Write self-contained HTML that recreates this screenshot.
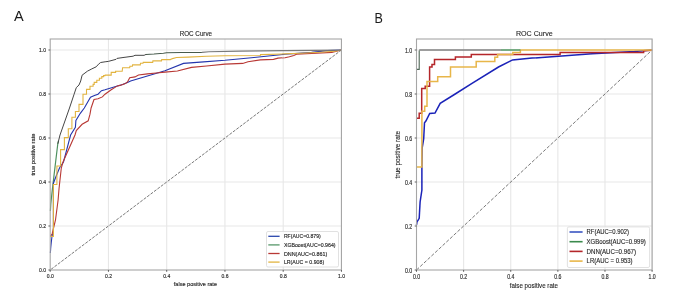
<!DOCTYPE html>
<html><head><meta charset="utf-8"><title>ROC Curves</title>
<style>
html,body{margin:0;padding:0;background:#fff;width:685px;height:306px;overflow:hidden;}
svg{display:block;font-family:"Liberation Sans",sans-serif;}
</style></head><body>
<svg width="685" height="306" viewBox="0 0 685 306" font-family="Liberation Sans, sans-serif">
<defs><filter id="bl" x="-5%" y="-5%" width="110%" height="110%"><feGaussianBlur stdDeviation="0.5"/></filter></defs>
<rect x="0" y="0" width="685" height="306" fill="#ffffff"/>
<g filter="url(#bl)">
<text x="13.9" y="20.6" font-size="14.5" text-anchor="start" fill="#1a1a1a" >A</text>
<g transform="translate(374.6 0) scale(0.86 1)"><text x="0" y="23.2" font-size="14.6" text-anchor="start" fill="#1a1a1a" >B</text></g>
<line x1="108.45" y1="39.0" x2="108.45" y2="270.0" stroke="#e7e7e7" stroke-width="1.1"/>
<line x1="166.70" y1="39.0" x2="166.70" y2="270.0" stroke="#e7e7e7" stroke-width="1.1"/>
<line x1="224.95" y1="39.0" x2="224.95" y2="270.0" stroke="#e7e7e7" stroke-width="1.1"/>
<line x1="283.20" y1="39.0" x2="283.20" y2="270.0" stroke="#e7e7e7" stroke-width="1.1"/>
<line x1="341.45" y1="39.0" x2="341.45" y2="270.0" stroke="#e7e7e7" stroke-width="1.1"/>
<line x1="50.2" y1="226.00" x2="341.45" y2="226.00" stroke="#e7e7e7" stroke-width="1.1"/>
<line x1="50.2" y1="182.00" x2="341.45" y2="182.00" stroke="#e7e7e7" stroke-width="1.1"/>
<line x1="50.2" y1="138.00" x2="341.45" y2="138.00" stroke="#e7e7e7" stroke-width="1.1"/>
<line x1="50.2" y1="94.00" x2="341.45" y2="94.00" stroke="#e7e7e7" stroke-width="1.1"/>
<line x1="50.2" y1="50.00" x2="341.45" y2="50.00" stroke="#e7e7e7" stroke-width="1.1"/>
<line x1="50.20" y1="270.00" x2="341.45" y2="50.00" stroke="#555555" stroke-width="0.8" stroke-dasharray="3.0 1.3" stroke-dashoffset="-1.1"/>
<polyline points="50.4,211.0 50.8,204.0 51.2,200.0 52.4,189.0 55.6,162.0 57.8,143.8 58.5,141.0" fill="none" stroke="#4e9160" stroke-width="1.2" stroke-linejoin="miter" />
<polyline points="50.4,253.0 50.7,248.0 51.2,243.0 52.0,236.3 53.4,232.0 53.4,190.0 53.4,183.2 56.5,175.2 59.6,167.7 63.5,162.0 70.6,135.0 75.4,127.4 75.9,120.4 80.3,113.3 84.3,108.0 90.5,97.3 94.4,95.6 98.0,94.2 101.5,90.7 105.0,89.8 116.5,86.3 122.7,84.5 128.0,82.3 130.6,81.0 165.0,70.8 183.5,63.4 200.3,62.1 225.0,60.3 251.5,57.7 278.0,55.0 285.0,54.2 311.5,52.4 327.4,50.6 341.4,50.0" fill="none" stroke="#2435ad" stroke-width="1.1" stroke-linejoin="miter" />
<polyline points="50.4,236.5 52.2,233.7 55.5,220.0 58.1,200.0 59.0,189.0 61.3,168.0 63.0,162.0 75.0,135.0 76.3,130.5 82.1,124.3 88.2,120.8 90.0,114.2 91.1,108.0 94.0,99.5 98.0,98.7 102.4,96.9 105.0,94.2 111.2,89.8 117.4,85.9 120.0,85.4 125.3,83.6 127.5,81.9 129.7,77.8 135.0,76.9 138.5,75.0 147.4,73.9 156.2,73.0 165.0,72.1 177.4,71.0 191.5,67.4 206.5,66.0 225.0,64.1 242.7,63.4 248.0,61.7 260.3,59.9 273.5,59.4 278.0,58.1 285.0,57.7 289.4,56.8 293.8,55.5 296.5,54.2 331.8,52.4 341.4,50.0" fill="none" stroke="#b83834" stroke-width="1.1" stroke-linejoin="miter" />
<polyline points="50.4,236.5 53.4,236.5 53.4,184.5 56.9,184.5 56.9,166.0 60.6,166.0 60.6,149.6 64.4,149.6 64.4,137.6 68.3,137.6 68.3,128.7 71.9,128.7 71.9,117.3 75.4,117.3 75.4,111.5 79.0,111.5 79.0,104.4 83.0,104.4 83.0,94.2 86.5,94.2 86.5,89.4 90.0,89.4 90.0,86.3 93.1,86.3 93.1,84.4 94.2,84.4 94.2,82.4 96.8,82.4 96.8,80.2 99.4,80.2 99.4,78.2 101.8,78.2 101.8,76.6 103.6,76.6 103.6,75.6 105.0,75.6 105.2,75.1 111.2,75.1 111.2,72.4 115.6,72.4 115.6,71.3 122.2,71.3 122.6,67.8 129.7,67.8 129.9,66.2 132.4,66.2 132.6,64.9 140.3,64.9 140.5,63.3 143.0,63.3 143.2,62.4 152.7,62.4 152.9,60.9 161.5,60.9 161.7,59.6 170.3,59.6 172.5,58.6 176.5,57.5 188.0,57.1 206.5,56.2 225.0,55.8 260.3,55.5 260.5,54.6 285.0,53.9 300.0,53.2 320.0,52.2 335.0,51.2 341.4,50.0" fill="none" stroke="#e2b440" stroke-width="1.1" stroke-linejoin="miter" />
<polyline points="57.8,143.8 60.0,135.0 69.5,108.0 74.1,94.2 76.3,87.6 79.0,85.0 80.7,81.0 82.1,75.2 87.4,71.2 91.8,68.9 96.2,66.8 98.5,64.2 100.6,62.5 105.1,61.8 108.3,61.4 116.1,59.3 117.0,58.4 124.0,57.4 133.1,56.2 135.0,55.3 144.1,55.3 146.0,54.4" fill="none" stroke="#454545" stroke-width="1.0" stroke-linejoin="miter" />
<polyline points="146.0,54.4 154.0,54.0 163.4,53.2 166.6,52.8 182.0,52.5 201.9,52.4" fill="none" stroke="#465a4c" stroke-width="1.05" stroke-linejoin="miter" />
<polyline points="201.9,52.4 208.9,51.7 240.0,51.1 285.0,50.6 341.4,50.1" fill="none" stroke="#7a7a7a" stroke-width="1.1" stroke-linejoin="miter" />
<rect x="50.2" y="39.0" width="291.25" height="231.00" fill="none" stroke="#a6a6a6" stroke-width="1.1"/>
<line x1="50.20" y1="270.0" x2="50.20" y2="271.8" stroke="#505050" stroke-width="0.9"/>
<line x1="48.400000000000006" y1="270.00" x2="50.2" y2="270.00" stroke="#505050" stroke-width="0.9"/>
<line x1="108.45" y1="270.0" x2="108.45" y2="271.8" stroke="#505050" stroke-width="0.9"/>
<line x1="48.400000000000006" y1="226.00" x2="50.2" y2="226.00" stroke="#505050" stroke-width="0.9"/>
<line x1="166.70" y1="270.0" x2="166.70" y2="271.8" stroke="#505050" stroke-width="0.9"/>
<line x1="48.400000000000006" y1="182.00" x2="50.2" y2="182.00" stroke="#505050" stroke-width="0.9"/>
<line x1="224.95" y1="270.0" x2="224.95" y2="271.8" stroke="#505050" stroke-width="0.9"/>
<line x1="48.400000000000006" y1="138.00" x2="50.2" y2="138.00" stroke="#505050" stroke-width="0.9"/>
<line x1="283.20" y1="270.0" x2="283.20" y2="271.8" stroke="#505050" stroke-width="0.9"/>
<line x1="48.400000000000006" y1="94.00" x2="50.2" y2="94.00" stroke="#505050" stroke-width="0.9"/>
<line x1="341.45" y1="270.0" x2="341.45" y2="271.8" stroke="#505050" stroke-width="0.9"/>
<line x1="48.400000000000006" y1="50.00" x2="50.2" y2="50.00" stroke="#505050" stroke-width="0.9"/>
<text x="50.20" y="277.8" font-size="5.7" text-anchor="middle" fill="#262626" stroke="#262626" stroke-width="0.15" textLength="7.0" lengthAdjust="spacingAndGlyphs" >0.0</text>
<text x="46.0" y="272.10" font-size="5.8" text-anchor="end" fill="#262626" stroke="#262626" stroke-width="0.15" textLength="7.0" lengthAdjust="spacingAndGlyphs" >0.0</text>
<text x="108.45" y="277.8" font-size="5.7" text-anchor="middle" fill="#262626" stroke="#262626" stroke-width="0.15" textLength="7.0" lengthAdjust="spacingAndGlyphs" >0.2</text>
<text x="46.0" y="228.10" font-size="5.8" text-anchor="end" fill="#262626" stroke="#262626" stroke-width="0.15" textLength="7.0" lengthAdjust="spacingAndGlyphs" >0.2</text>
<text x="166.70" y="277.8" font-size="5.7" text-anchor="middle" fill="#262626" stroke="#262626" stroke-width="0.15" textLength="7.0" lengthAdjust="spacingAndGlyphs" >0.4</text>
<text x="46.0" y="184.10" font-size="5.8" text-anchor="end" fill="#262626" stroke="#262626" stroke-width="0.15" textLength="7.0" lengthAdjust="spacingAndGlyphs" >0.4</text>
<text x="224.95" y="277.8" font-size="5.7" text-anchor="middle" fill="#262626" stroke="#262626" stroke-width="0.15" textLength="7.0" lengthAdjust="spacingAndGlyphs" >0.6</text>
<text x="46.0" y="140.10" font-size="5.8" text-anchor="end" fill="#262626" stroke="#262626" stroke-width="0.15" textLength="7.0" lengthAdjust="spacingAndGlyphs" >0.6</text>
<text x="283.20" y="277.8" font-size="5.7" text-anchor="middle" fill="#262626" stroke="#262626" stroke-width="0.15" textLength="7.0" lengthAdjust="spacingAndGlyphs" >0.8</text>
<text x="46.0" y="96.10" font-size="5.8" text-anchor="end" fill="#262626" stroke="#262626" stroke-width="0.15" textLength="7.0" lengthAdjust="spacingAndGlyphs" >0.8</text>
<text x="341.45" y="277.8" font-size="5.7" text-anchor="middle" fill="#262626" stroke="#262626" stroke-width="0.15" textLength="7.0" lengthAdjust="spacingAndGlyphs" >1.0</text>
<text x="46.0" y="52.10" font-size="5.8" text-anchor="end" fill="#262626" stroke="#262626" stroke-width="0.15" textLength="7.0" lengthAdjust="spacingAndGlyphs" >1.0</text>
<text x="195.9" y="35.9" font-size="7.1" text-anchor="middle" fill="#262626" stroke="#262626" stroke-width="0.12" textLength="32.4" lengthAdjust="spacingAndGlyphs" >ROC Curve</text>
<text x="195.4" y="285.9" font-size="6.2" text-anchor="middle" fill="#262626" stroke="#262626" stroke-width="0.15" textLength="43.2" lengthAdjust="spacingAndGlyphs" >false positive rate</text>
<text x="0" y="0" font-size="6.2" text-anchor="middle" fill="#262626" stroke="#262626" stroke-width="0.15" textLength="42" lengthAdjust="spacingAndGlyphs" transform="translate(34.8 154.6) rotate(-90)">true positive rate</text>
<rect x="266.5" y="231.5" width="72" height="35.5" rx="1.5" fill="#ffffff" fill-opacity="0.85" stroke="#d9d9d9" stroke-width="0.8"/>
<line x1="268.3" y1="236.30" x2="279.6" y2="236.30" stroke="#2b45ac" stroke-width="1.3"/>
<text x="283.9" y="238.40" font-size="5.8" text-anchor="start" fill="#262626" stroke="#262626" stroke-width="0.15" textLength="36.8" lengthAdjust="spacingAndGlyphs" >RF(AUC=0.879)</text>
<line x1="268.3" y1="244.90" x2="279.6" y2="244.90" stroke="#57976a" stroke-width="1.3"/>
<text x="283.9" y="247.00" font-size="5.8" text-anchor="start" fill="#262626" stroke="#262626" stroke-width="0.15" textLength="51.7" lengthAdjust="spacingAndGlyphs" >XGBoost(AUC=0.964)</text>
<line x1="268.3" y1="253.50" x2="279.6" y2="253.50" stroke="#b83834" stroke-width="1.3"/>
<text x="283.9" y="255.60" font-size="5.8" text-anchor="start" fill="#262626" stroke="#262626" stroke-width="0.15" textLength="43.4" lengthAdjust="spacingAndGlyphs" >DNN(AUC=0.861)</text>
<line x1="268.3" y1="262.10" x2="279.6" y2="262.10" stroke="#e2b440" stroke-width="1.3"/>
<text x="283.9" y="264.20" font-size="5.8" text-anchor="start" fill="#262626" stroke="#262626" stroke-width="0.15" textLength="40.3" lengthAdjust="spacingAndGlyphs" >LR(AUC = 0.908)</text>
<line x1="463.62" y1="39.0" x2="463.62" y2="270.0" stroke="#e7e7e7" stroke-width="1.1"/>
<line x1="510.74" y1="39.0" x2="510.74" y2="270.0" stroke="#e7e7e7" stroke-width="1.1"/>
<line x1="557.86" y1="39.0" x2="557.86" y2="270.0" stroke="#e7e7e7" stroke-width="1.1"/>
<line x1="604.98" y1="39.0" x2="604.98" y2="270.0" stroke="#e7e7e7" stroke-width="1.1"/>
<line x1="652.10" y1="39.0" x2="652.10" y2="270.0" stroke="#e7e7e7" stroke-width="1.1"/>
<line x1="416.5" y1="226.00" x2="652.1" y2="226.00" stroke="#e7e7e7" stroke-width="1.1"/>
<line x1="416.5" y1="182.00" x2="652.1" y2="182.00" stroke="#e7e7e7" stroke-width="1.1"/>
<line x1="416.5" y1="138.00" x2="652.1" y2="138.00" stroke="#e7e7e7" stroke-width="1.1"/>
<line x1="416.5" y1="94.00" x2="652.1" y2="94.00" stroke="#e7e7e7" stroke-width="1.1"/>
<line x1="416.5" y1="50.00" x2="652.1" y2="50.00" stroke="#e7e7e7" stroke-width="1.1"/>
<line x1="416.50" y1="270.00" x2="652.10" y2="50.00" stroke="#555555" stroke-width="0.8" stroke-dasharray="3.4 1.7" stroke-dashoffset="0"/>
<polyline points="416.5,225.0 417.0,221.9 419.2,218.3 420.1,202.0 421.9,190.0 421.9,167.9 422.2,148.0 423.7,138.7 424.5,122.8 425.9,121.0 429.7,113.4 435.0,113.0 440.2,103.3 455.2,94.0 472.0,83.3 498.5,67.0 512.6,59.9 532.0,58.1 592.0,53.7 634.4,51.5 652.1,50.1" fill="none" stroke="#1a22b8" stroke-width="1.5" stroke-linejoin="miter" />
<polyline points="416.5,118.2 419.2,118.2 419.2,113.3 421.7,113.3 421.7,88.6 425.2,88.6 425.2,86.3 429.6,86.3 429.6,66.9 432.0,66.9 432.0,64.5 434.5,64.5 434.5,59.5 455.4,59.5 455.4,57.1 471.3,57.1 471.3,54.6 560.1,54.6 560.1,52.4 643.6,52.4 643.6,50.8 652.1,50.2" fill="none" stroke="#b4252a" stroke-width="1.5" stroke-linejoin="miter" />
<polyline points="416.5,167.0 421.9,167.0 421.9,111.2 424.7,111.2 424.7,106.3 427.0,106.3 427.0,81.5 437.7,81.5 437.7,76.7 450.5,76.7 450.5,66.9 476.2,66.9 476.2,61.6 494.8,61.6 494.8,57.2 497.6,57.2 497.6,54.6 512.8,54.6 512.8,52.4 520.4,52.4 520.4,49.9 652.1,49.9" fill="none" stroke="#e8b64a" stroke-width="1.5" stroke-linejoin="miter" />
<polyline points="419.2,50.0 501.0,50.0" fill="none" stroke="#808080" stroke-width="1.6" stroke-linejoin="miter" />
<polyline points="416.5,69.4 419.2,69.4 419.2,50.6" fill="none" stroke="#4d6554" stroke-width="1.1" stroke-linejoin="miter" />
<polyline points="501.0,50.0 520.4,50.0" fill="none" stroke="#4f955f" stroke-width="1.5" stroke-linejoin="miter" />
<rect x="416.5" y="39.0" width="235.60" height="231.00" fill="none" stroke="#a6a6a6" stroke-width="1.1"/>
<line x1="416.50" y1="270.0" x2="416.50" y2="271.8" stroke="#505050" stroke-width="0.9"/>
<line x1="414.7" y1="270.00" x2="416.5" y2="270.00" stroke="#505050" stroke-width="0.9"/>
<line x1="463.62" y1="270.0" x2="463.62" y2="271.8" stroke="#505050" stroke-width="0.9"/>
<line x1="414.7" y1="226.00" x2="416.5" y2="226.00" stroke="#505050" stroke-width="0.9"/>
<line x1="510.74" y1="270.0" x2="510.74" y2="271.8" stroke="#505050" stroke-width="0.9"/>
<line x1="414.7" y1="182.00" x2="416.5" y2="182.00" stroke="#505050" stroke-width="0.9"/>
<line x1="557.86" y1="270.0" x2="557.86" y2="271.8" stroke="#505050" stroke-width="0.9"/>
<line x1="414.7" y1="138.00" x2="416.5" y2="138.00" stroke="#505050" stroke-width="0.9"/>
<line x1="604.98" y1="270.0" x2="604.98" y2="271.8" stroke="#505050" stroke-width="0.9"/>
<line x1="414.7" y1="94.00" x2="416.5" y2="94.00" stroke="#505050" stroke-width="0.9"/>
<line x1="652.10" y1="270.0" x2="652.10" y2="271.8" stroke="#505050" stroke-width="0.9"/>
<line x1="414.7" y1="50.00" x2="416.5" y2="50.00" stroke="#505050" stroke-width="0.9"/>
<text x="416.50" y="278.9" font-size="7.0" text-anchor="middle" fill="#262626" stroke="#262626" stroke-width="0.15" textLength="7.2" lengthAdjust="spacingAndGlyphs" >0.0</text>
<text x="412.2" y="272.50" font-size="7.0" text-anchor="end" fill="#262626" stroke="#262626" stroke-width="0.15" textLength="7.3" lengthAdjust="spacingAndGlyphs" >0.0</text>
<text x="463.62" y="278.9" font-size="7.0" text-anchor="middle" fill="#262626" stroke="#262626" stroke-width="0.15" textLength="7.2" lengthAdjust="spacingAndGlyphs" >0.2</text>
<text x="412.2" y="228.50" font-size="7.0" text-anchor="end" fill="#262626" stroke="#262626" stroke-width="0.15" textLength="7.3" lengthAdjust="spacingAndGlyphs" >0.2</text>
<text x="510.74" y="278.9" font-size="7.0" text-anchor="middle" fill="#262626" stroke="#262626" stroke-width="0.15" textLength="7.2" lengthAdjust="spacingAndGlyphs" >0.4</text>
<text x="412.2" y="184.50" font-size="7.0" text-anchor="end" fill="#262626" stroke="#262626" stroke-width="0.15" textLength="7.3" lengthAdjust="spacingAndGlyphs" >0.4</text>
<text x="557.86" y="278.9" font-size="7.0" text-anchor="middle" fill="#262626" stroke="#262626" stroke-width="0.15" textLength="7.2" lengthAdjust="spacingAndGlyphs" >0.6</text>
<text x="412.2" y="140.50" font-size="7.0" text-anchor="end" fill="#262626" stroke="#262626" stroke-width="0.15" textLength="7.3" lengthAdjust="spacingAndGlyphs" >0.6</text>
<text x="604.98" y="278.9" font-size="7.0" text-anchor="middle" fill="#262626" stroke="#262626" stroke-width="0.15" textLength="7.2" lengthAdjust="spacingAndGlyphs" >0.8</text>
<text x="412.2" y="96.50" font-size="7.0" text-anchor="end" fill="#262626" stroke="#262626" stroke-width="0.15" textLength="7.3" lengthAdjust="spacingAndGlyphs" >0.8</text>
<text x="652.10" y="278.9" font-size="7.0" text-anchor="middle" fill="#262626" stroke="#262626" stroke-width="0.15" textLength="7.2" lengthAdjust="spacingAndGlyphs" >1.0</text>
<text x="412.2" y="52.50" font-size="7.0" text-anchor="end" fill="#262626" stroke="#262626" stroke-width="0.15" textLength="7.3" lengthAdjust="spacingAndGlyphs" >1.0</text>
<text x="534.3" y="35.9" font-size="7.9" text-anchor="middle" fill="#262626" stroke="#262626" stroke-width="0.12" textLength="36.8" lengthAdjust="spacingAndGlyphs" >ROC Curve</text>
<text x="533.9" y="287.8" font-size="6.9" text-anchor="middle" fill="#262626" stroke="#262626" stroke-width="0.12" textLength="48.2" lengthAdjust="spacingAndGlyphs" >false positive rate</text>
<text x="0" y="0" font-size="6.9" text-anchor="middle" fill="#262626" stroke="#262626" stroke-width="0.12" textLength="47.6" lengthAdjust="spacingAndGlyphs" transform="translate(399.8 154.7) rotate(-90)">true positive rate</text>
<rect x="567.4" y="226.9" width="82.2" height="40.6" rx="1.5" fill="#ffffff" fill-opacity="0.85" stroke="#d9d9d9" stroke-width="0.8"/>
<line x1="569.5" y1="232.00" x2="582.6" y2="232.00" stroke="#3a55c2" stroke-width="1.6"/>
<text x="586.6" y="234.20" font-size="6.5" text-anchor="start" fill="#262626" stroke="#262626" stroke-width="0.12" textLength="42.4" lengthAdjust="spacingAndGlyphs" >RF(AUC=0.902)</text>
<line x1="569.5" y1="241.70" x2="582.6" y2="241.70" stroke="#3b8a4d" stroke-width="1.6"/>
<text x="586.6" y="243.90" font-size="6.5" text-anchor="start" fill="#262626" stroke="#262626" stroke-width="0.12" textLength="59.2" lengthAdjust="spacingAndGlyphs" >XGBoost(AUC=0.999)</text>
<line x1="569.5" y1="251.40" x2="582.6" y2="251.40" stroke="#b4252a" stroke-width="1.6"/>
<text x="586.6" y="253.60" font-size="6.5" text-anchor="start" fill="#262626" stroke="#262626" stroke-width="0.12" textLength="49.5" lengthAdjust="spacingAndGlyphs" >DNN(AUC=0.967)</text>
<line x1="569.5" y1="261.10" x2="582.6" y2="261.10" stroke="#e8b64a" stroke-width="1.6"/>
<text x="586.6" y="263.30" font-size="6.5" text-anchor="start" fill="#262626" stroke="#262626" stroke-width="0.12" textLength="46.0" lengthAdjust="spacingAndGlyphs" >LR(AUC = 0.953)</text>
</g>
</svg>
</body></html>
